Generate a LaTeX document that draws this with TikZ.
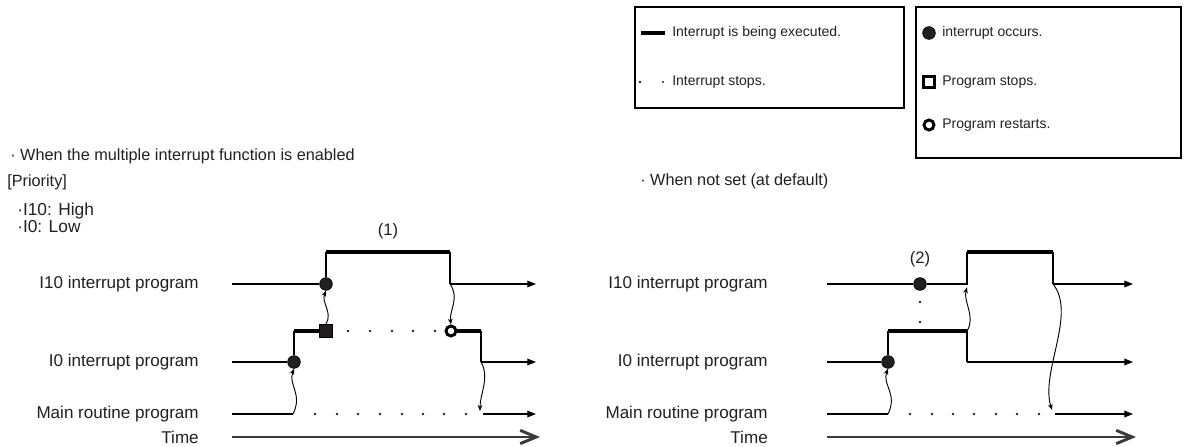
\documentclass[tikz,border=0pt]{standalone}
\usepackage{fontspec}
\setmainfont{Liberation Sans}
\usetikzlibrary{arrows.meta}
\definecolor{ink}{HTML}{231F20}
\definecolor{timegray}{HTML}{3A3A3A}
\tikzset{>={Triangle[length=6.5pt,width=5pt]}}

\begin{document}
\begin{tikzpicture}[x=0.75pt,y=-0.75pt,
    lbl/.style={anchor=east,inner sep=0pt,text=ink,font=\fontsize{12.8}{15}\selectfont},
    head/.style={anchor=west,inner sep=0pt,text=ink,font=\fontsize{12.2}{14}\selectfont},
    key/.style={anchor=west,inner sep=0pt,text=ink,font=\fontsize{10.5}{12}\selectfont},
    wire/.style={line width=0.9pt},
    busy/.style={line width=3pt},
    hop/.style={-{Stealth[length=4.5pt,width=3.5pt]},line width=0.7pt},
    occur/.style={circle,draw=black,fill=ink,line width=0.5pt,minimum size=9.5pt,inner sep=0pt},
    halt/.style={rectangle,draw=black,fill=ink,line width=0.5pt,minimum size=10pt,inner sep=0pt},
    resume/.style={circle,draw=black,fill=white,line width=2.2pt,minimum size=7.5pt,inner sep=0pt},
    timeline/.style={draw=timegray,line width=2.2pt,-{Straight Barb[length=12pt,width=10pt]}}]
  \useasboundingbox (0,0) rectangle (1188,446);

  % Legend
  \draw[line width=0.8pt] (635,7) rectangle (904,108);
  \draw[line width=0.8pt] (916,7) rectangle (1181,158);
  \draw[busy] (641,33) -- (665,33);
  \node[key] (kRun) at (672,33) {Interrupt is being executed.};
  \fill[ink] (640,82) circle (1.1pt);
  \fill[ink] (663,82) circle (0.9pt);
  \node[key] (kStop) at (672,82) {Interrupt stops.};
  \node[occur] (kOcc) at (929,33) {};
  \node[key] (kOccT) at (942,33) {interrupt occurs.};
  \node[halt,fill=white,line width=2.2pt,minimum size=8pt] (kHalt) at (929,82) {};
  \node[key] (kHaltT) at (942,82) {Program stops.};
  \node[resume] (kRes) at (929,125) {};
  \node[key] (kResT) at (942,125) {Program restarts.};

  % Headings
  \node[head] (hMulti) at (10,156) {· When the multiple interrupt function is enabled};
  \node[head] (hPrio) at (7,182) {[Priority]};
  \node[head,font=\fontsize{13}{15}\selectfont] (hHigh) at (17,211) {·I10: High};
  \node[head,font=\fontsize{13}{15}\selectfont] (hLow) at (17,227) {·I0: Low};
  \node[head] (hDef) at (640,181) {· When not set (at default)};

  % Left chart: labels
  \node[lbl] (hiL) at (199,284) {I10 interrupt program};
  \node[lbl] (loL) at (199,362) {I0 interrupt program};
  \node[lbl] (mnL) at (199,414) {Main routine program};
  \node[lbl] (tL) at (199,437) {Time};
  \node[text=ink,font=\fontsize{12.5}{14}\selectfont] (one) at (388,231) {(1)};

  % Left chart: points
  \coordinate (hiS) at (232,284);
  \node[occur] (hiOcc) at (326,284) {};
  \coordinate (hiUp) at (326,252);
  \coordinate (hiDn) at (450,252);
  \coordinate (hiBack) at (450,284);
  \coordinate (hiEnd) at (536,284);
  \coordinate (loS) at (232,362);
  \node[occur] (loOcc) at (294,362) {};
  \coordinate (loUp) at (294,331);
  \node[halt] (loStop) at (326,331) {};
  \node[resume] (loRes) at (451,331) {};
  \coordinate (loDn) at (481,331);
  \coordinate (loBack) at (481,362);
  \coordinate (loEnd) at (536,362);
  \coordinate (mnS) at (232,414);
  \coordinate (mnA) at (293,414);
  \coordinate (mnHop) at (480,411);
  \coordinate (mnB) at (483,414);
  \coordinate (mnEnd) at (536,414);
  \coordinate (tS) at (232,437);
  \coordinate (tE) at (540,437);

  % Left chart: lines
  \draw[wire] (hiS) -- (hiOcc);
  \draw[wire] (hiOcc) -- (hiUp);
  \draw[busy] (hiUp) -- (hiDn);
  \draw[wire] (hiDn) -- (hiBack);
  \draw[wire,->] (hiBack) -- (hiEnd);
  \draw[wire] (loS) -- (loOcc);
  \draw[wire] (loOcc) -- (loUp);
  \draw[busy] (loUp) -- (loStop);
  \foreach \x in {348,370,392,413,435} \fill[ink] (\x,331) circle (1.1pt);
  \draw[busy] (loRes) -- (loDn);
  \draw[wire] (loDn) -- (loBack);
  \draw[wire,->] (loBack) -- (loEnd);
  \draw[wire] (mnS) -- (mnA);
  \foreach \x in {315,337,358,380,402,423,444,466} \fill[ink] (\x,414) circle (1.1pt);
  \draw[wire,->] (mnB) -- (mnEnd);
  \draw[timeline] (tS) -- (tE);

  % Left chart: hops
  \draw[hop] (mnA) .. controls +(10,-20) and +(-6,16) .. (loOcc.south);
  \draw[hop] (loStop.north) .. controls +(7,-12) and +(-5,12) .. (hiOcc.south);
  \draw[hop] (hiBack) .. controls +(10,14) and +(-2,-14) .. (loRes.north);
  \draw[hop] (loBack) .. controls +(9,16) and +(0,-18) .. (mnHop);

  % Right chart: labels
  \node[lbl] (hiLR) at (768,284) {I10 interrupt program};
  \node[lbl] (loLR) at (768,362) {I0 interrupt program};
  \node[lbl] (mnLR) at (768,414) {Main routine program};
  \node[lbl] (tLR) at (768,437) {Time};
  \node[text=ink,font=\fontsize{12.5}{14}\selectfont] (two) at (920,259) {(2)};

  % Right chart: points
  \coordinate (hiSR) at (827,284);
  \node[occur] (hiOccR) at (920,284) {};
  \coordinate (hiRiseR) at (967,284);
  \coordinate (hiUpR) at (967,252);
  \coordinate (hiDnR) at (1053,252);
  \coordinate (hiBackR) at (1053,284);
  \coordinate (hiEndR) at (1133,284);
  \coordinate (loSR) at (827,362);
  \node[occur] (loOccR) at (888,362) {};
  \coordinate (loUpR) at (888,331);
  \coordinate (loDnR) at (967,331);
  \coordinate (loBackR) at (967,362);
  \coordinate (loEndR) at (1133,362);
  \coordinate (mnSR) at (827,414);
  \coordinate (mnAR) at (888,414);
  \coordinate (mnHopR) at (1052,410);
  \coordinate (mnBR) at (1055,414);
  \coordinate (mnEndR) at (1133,414);
  \coordinate (tSR) at (827,437);
  \coordinate (tER) at (1136,437);

  % Right chart: lines
  \draw[wire] (hiSR) -- (hiOccR);
  \draw[wire] (hiOccR) -- (hiRiseR) -- (hiUpR);
  \draw[busy] (hiUpR) -- (hiDnR);
  \draw[wire] (hiDnR) -- (hiBackR);
  \draw[wire,->] (hiBackR) -- (hiEndR);
  \foreach \y in {302,322} \fill[ink] (920,\y) circle (1.1pt);
  \draw[wire] (loSR) -- (loOccR);
  \draw[wire] (loOccR) -- (loUpR);
  \draw[busy] (loUpR) -- (loDnR);
  \draw[wire] (loDnR) -- (loBackR);
  \draw[wire,->] (loBackR) -- (loEndR);
  \draw[wire] (mnSR) -- (mnAR);
  \foreach \x in {910,932,953,974,996,1017,1039} \fill[ink] (\x,414) circle (1.1pt);
  \draw[wire,->] (mnBR) -- (mnEndR);
  \draw[timeline] (tSR) -- (tER);

  % Right chart: hops
  \draw[hop] (mnAR) .. controls +(10,-20) and +(-6,16) .. (loOccR.south);
  \draw[hop] (loDnR) .. controls +(9,-14) and +(-4,14) .. ([yshift=-2.5pt]hiRiseR);
  \draw[hop] (hiBackR) .. controls +(24,30) and +(-12,-38) .. (mnHopR);
\end{tikzpicture}
\end{document}
